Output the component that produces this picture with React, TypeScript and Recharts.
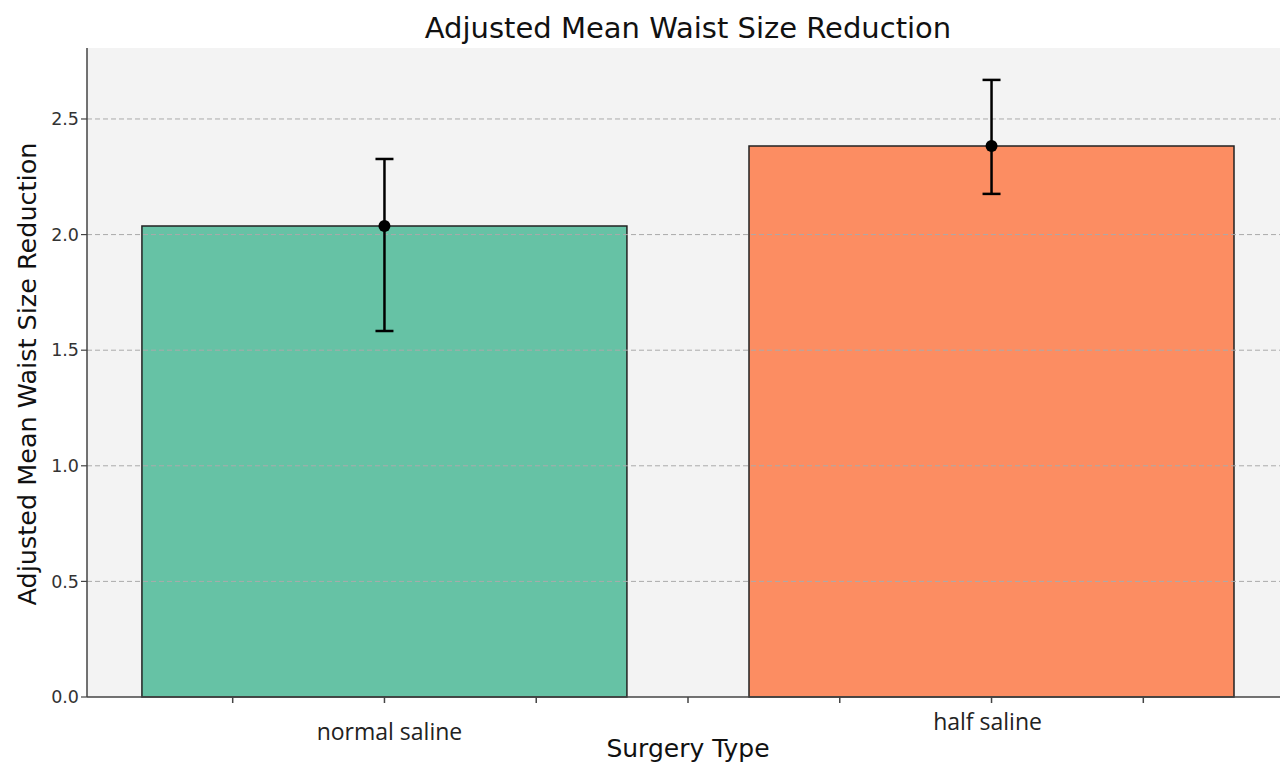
import React from "react";
import {
  ComposedChart,
  Bar,
  Cell,
  Scatter,
  ErrorBar,
  XAxis,
  YAxis,
  ReferenceLine,
  CartesianGrid,
} from "recharts";

const categories = ["normal saline", "half saline"];
const means = [2.037, 2.383];
const lowerErr = [0.454, 0.207];
const upperErr = [0.29, 0.286];
const barColors = ["#66c2a5", "#fc8d62"];
const yTicks = [0, 0.5, 1.0, 1.5, 2.0, 2.5];
const gridLines = [0.5, 1.0, 1.5, 2.0, 2.5];
const xTicks = [-0.25, 0, 0.25, 0.5, 0.75, 1, 1.25];

const data = categories.map((name, i) => ({
  x: i,
  name,
  mean: means[i],
  err: [lowerErr[i], upperErr[i]],
}));

const FONT = "'DejaVu Sans', sans-serif";

// tick text only on the category positions, the others are bare marks
const XTick = (props: any) => {
  const { x, y, payload } = props;
  const idx = categories.findIndex((_, i) => i === payload.value);
  if (idx < 0) return null;
  const dy = idx === 1 ? 16 : 26;
  return (
    <text
      x={x + (idx === 0 ? 5 : -4)}
      y={y + dy}
      textAnchor="middle"
      dominantBaseline="central"
      fontFamily="'Open Sans', sans-serif"
      fontSize={23}
      fill="#222"
    >
      {categories[idx]}
    </text>
  );
};

const Dot = (props: any) => <circle cx={props.cx} cy={props.cy} r={6} fill="#000" />;

export default function App() {
  return (
    <div
      style={{
        position: "fixed",
        left: 0,
        top: 0,
        width: 1280,
        height: 764,
        overflow: "hidden",
        background: "#fff",
      }}
    >
      <div
        style={{
          position: "absolute",
          left: 0,
          width: 1376,
          top: 11,
          textAlign: "center",
          fontFamily: FONT,
          fontSize: 29,
          color: "#111",
        }}
      >
        Adjusted Mean Waist Size Reduction
      </div>
      <ComposedChart
        width={1290}
        height={764}
        data={data}
        margin={{ top: 48, right: 1, bottom: 0, left: 0 }}
      >
        <CartesianGrid horizontal={false} vertical={false} fill="#f3f3f3" />
        <XAxis
          xAxisId="top"
          orientation="top"
          type="number"
          dataKey="x"
          domain={[-0.49, 1.49]}
          height={0}
          tick={false}
          tickLine={false}
          axisLine={{ stroke: "#444", strokeWidth: 1.5 }}
        />
        <XAxis
          type="number"
          dataKey="x"
          domain={[-0.49, 1.49]}
          ticks={xTicks}
          interval={0}
          height={67}
          tick={<XTick />}
          tickSize={6}
          tickLine={{ stroke: "#444", strokeWidth: 1.5 }}
          axisLine={{ stroke: "#444", strokeWidth: 1.5 }}
          label={{
            content: () => (
              <text x={688} y={757} textAnchor="middle" fontFamily={FONT} fontSize={25} fill="#111">
                Surgery Type
              </text>
            ),
          }}
        />
        <YAxis
          type="number"
          domain={[0, 2.807]}
          ticks={yTicks}
          width={87}
          tickSize={6}
          tickFormatter={(v: number) => v.toFixed(1)}
          tick={{ fontFamily: FONT, fontSize: 17.5, fill: "#333" }}
          tickLine={{ stroke: "#444", strokeWidth: 1.2 }}
          axisLine={{ stroke: "#444", strokeWidth: 1.5 }}
          label={{
            content: () => (
              <text
                x={27}
                y={374}
                transform="rotate(-90 27 374)"
                textAnchor="middle"
                dominantBaseline="central"
                fontFamily={FONT}
                fontSize={25.5}
                fill="#111"
              >
                Adjusted Mean Waist Size Reduction
              </text>
            ),
          }}
        />
        <Bar dataKey="mean" barSize={485} stroke="#222" strokeWidth={1.5} isAnimationActive={false}>
          {data.map((d, i) => (
            <Cell key={d.name} fill={barColors[i]} />
          ))}
        </Bar>
        {gridLines.map((v) => (
          <ReferenceLine key={v} y={v} stroke="#aaa" strokeWidth={1} strokeDasharray="5 3" />
        ))}
        <Scatter dataKey="mean" shape={<Dot />} isAnimationActive={false}>
          <ErrorBar dataKey="err" direction="y" width={9} stroke="#000" strokeWidth={2.5} />
        </Scatter>
      </ComposedChart>
    </div>
  );
}
